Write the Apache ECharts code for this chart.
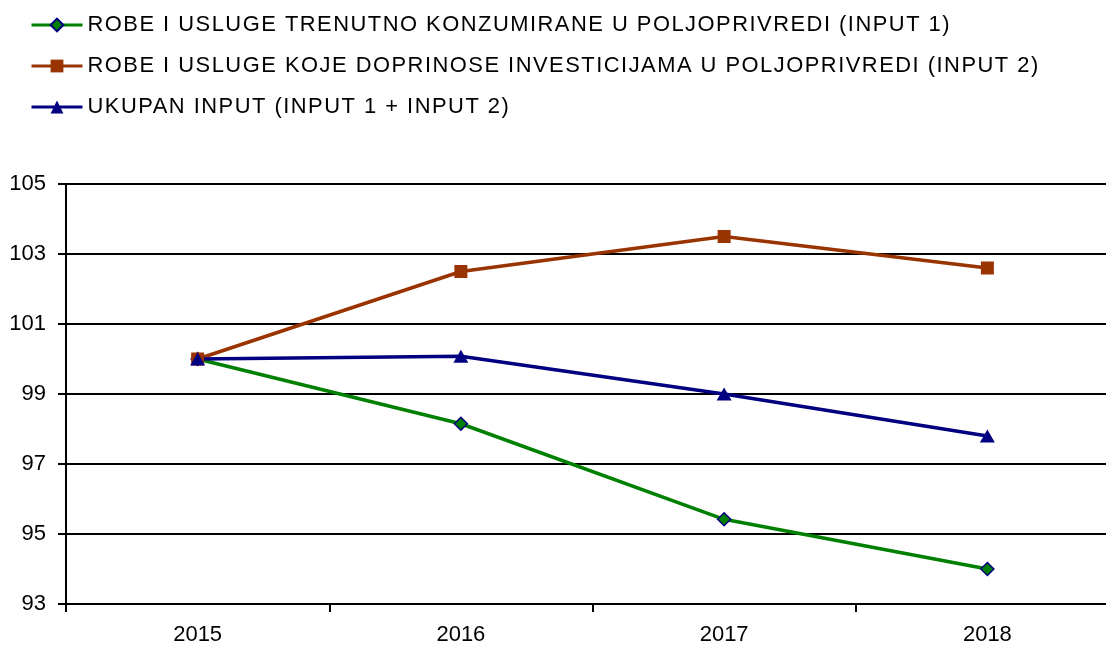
<!DOCTYPE html>
<html><head><meta charset="utf-8">
<script src="https://cdn.jsdelivr.net/npm/echarts@6/dist/echarts.min.js"></script>
<style>html,body{margin:0;padding:0;background:#fff;overflow:hidden}#c{width:1119px;height:646px}</style>
</head><body><div id="c"></div>
<script>
const years = ['2015','2016','2017','2018'];
const input1 = [100, 98.15, 95.42, 94.0];
const input2 = [100, 102.5, 103.5, 102.6];
const total = [100, 100.08, 99.0, 97.8];
const names = [
  'ROBE I USLUGE TRENUTNO KONZUMIRANE U POLJOPRIVREDI (INPUT 1)',
  'ROBE I USLUGE KOJE DOPRINOSE INVESTICIJAMA U POLJOPRIVREDI (INPUT 2)',
  'UKUPAN INPUT (INPUT 1 + INPUT 2)'
];
const font = 'Liberation Sans, Arial, sans-serif';
// legend text in the reference is drawn with wider letter spacing
(function(){
  const P = CanvasRenderingContext2D.prototype, orig = P.fillText;
  P.fillText = function(t, x, y, m){
    if (/21\.9px/.test(this.font) && 'letterSpacing' in this) {
      const prev = this.letterSpacing; this.letterSpacing = '1.5px';
      m === undefined ? orig.call(this, t, x, y) : orig.call(this, t, x, y, m);
      this.letterSpacing = prev;
    } else {
      m === undefined ? orig.call(this, t, x, y) : orig.call(this, t, x, y, m);
    }
  };
})();
const chart = echarts.init(document.getElementById('c'), null, {renderer:'canvas'});
chart.setOption({
  animation:false,
  legend:{
    orient:'vertical', left:30, top:14, padding:0, itemWidth:51, itemHeight:16, itemGap:19,
    lineStyle:{width:3},
    textStyle:{fontFamily:font, fontSize:21.9, color:'#000', padding:[0,0,0,0]},
    data:names
  },
  grid:{left:66, right:0, top:184, bottom:35, containLabel:false},
  xAxis:{
    type:'category', data:years, boundaryGap:true,
    axisLine:{show:true, onZero:false, lineStyle:{color:'#000', width:2}},
    axisTick:{show:true, length:8, lineStyle:{color:'#000', width:2}},
    axisLabel:{fontFamily:font, fontSize:22, color:'#000', margin:20},
    splitLine:{show:false}
  },
  yAxis:{
    type:'value', min:93, max:105, interval:2,
    axisLine:{show:true, lineStyle:{color:'#000', width:2}},
    axisTick:{show:true, length:8, lineStyle:{color:'#000', width:2}},
    axisLabel:{fontFamily:font, fontSize:22, color:'#000', margin:20},
    splitLine:{show:true, lineStyle:{color:'#000', width:2}}
  },
  series:[
    {name:names[0], type:'line', data:input1, symbol:'diamond', symbolSize:13, showAllSymbol:true,
     lineStyle:{color:'#008000', width:3.5}, itemStyle:{color:'#008000', borderColor:'#000080', borderWidth:1.5}},
    {name:names[1], type:'line', data:input2, symbol:'rect', symbolSize:13,
     lineStyle:{color:'#993300', width:3.5}, itemStyle:{color:'#993300'}},
    {name:names[2], type:'line', data:total, symbol:'triangle', symbolSize:[15,13],
     lineStyle:{color:'#000080', width:3.5}, itemStyle:{color:'#000080'}}
  ]
});
</script></body></html>
